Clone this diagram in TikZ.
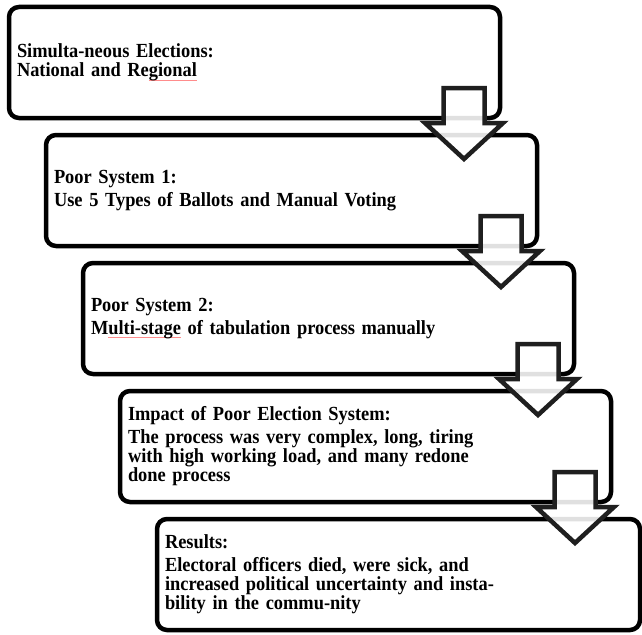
\documentclass[tikz,border=0pt]{standalone}
\usepackage{fontspec}
\setmainfont[FakeStretch=0.92]{Liberation Serif}
\usepackage{xcolor}
\usetikzlibrary{positioning}

% spell-check mark under a word
\newcommand\spellmark[1]{\setbox0\hbox{#1}\rlap{\color{red!45}\rule[-3.5pt]{\wd0}{0.5pt}}#1}

\begin{document}
\begin{tikzpicture}[x=1pt, y=-1pt,
    stagebox/.style={draw, line width=4.5pt, rounded corners=10pt,
      inner xsep=8pt, outer sep=0pt, text width=475pt, minimum height=111pt,
      align=left, anchor=north west,
      font=\fontsize{20}{19}\selectfont\bfseries},
    blockarrow/.style={draw=black!88, line width=4.5pt, fill=white, fill opacity=0.88}]
      \useasboundingbox (0,0) rectangle (642,634);

      % Draw the stages
      \node[stagebox] (b1) at (9,7) {Simulta-neous Elections:\\
        National and Re\spellmark{gional}};
      \node[stagebox, below right=17pt and 37pt of b1.south west] (b2)
        {Poor System 1:\\[4pt]
        Use 5 Types of Ballots and Manual Voting};
      \node[stagebox, below right=17pt and 37pt of b2.south west] (b3)
        {Poor System 2:\\[4pt]
        M\spellmark{ulti-stage} of tabulation process manually};
      \node[stagebox, below right=17pt and 37pt of b3.south west] (b4)
        {Impact of Poor Election System:\\[4pt]
        The process was very complex, long, tiring\\
        with high working load, and many redone\\
        done process};
      \node[stagebox, text width=467pt, below right=17pt and 37pt of b4.south west] (b5)
        {Results:\\[4pt]
        Electoral officers died, were sick, and\\
        increased political uncertainty and insta-\\
        bility in the commu-nity};

      % Draw block arrows between stages
      \foreach \i in {1,2,3,4} {
        \draw[blockarrow] ([xshift=-36pt]b\i.south east) ++(-20.5pt,30pt)
          -- ++(0pt,-35pt) -- ++(-18.5pt,0pt) -- ++(39pt,-36pt)
          -- ++(39pt,36pt) -- ++(-18.5pt,0pt) -- ++(0pt,35pt) -- cycle;
      }

    \end{tikzpicture}
\end{document}
